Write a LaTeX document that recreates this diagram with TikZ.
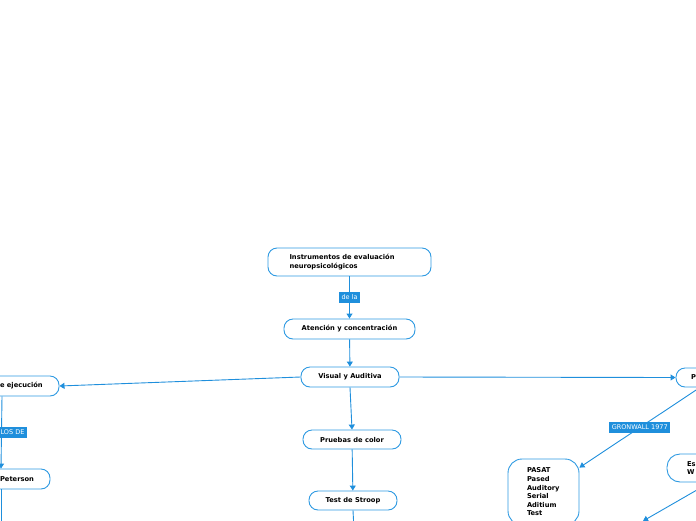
\documentclass[tikz,border=0pt]{standalone}
\usepackage{fontspec}
\setmainfont{DejaVu Sans}
\usetikzlibrary{arrows.meta}
\definecolor{bl}{HTML}{2E9AE2}
\definecolor{lb}{HTML}{1F8FDC}
\tikzset{
 box/.style={draw=bl, line width=0.9pt, rounded corners=9pt, fill=white, font=\bfseries\fontsize{6.7}{8.6}\selectfont, inner sep=0pt, anchor=center},
 lab/.style={fill=lb, text=white, font=\fontsize{6.5}{7}\selectfont, inner xsep=2.5pt, inner ysep=2pt, minimum height=11pt},
 conn/.style={draw=lb, line width=0.9pt, -{Triangle[length=5pt,width=6pt]}},
 plain/.style={draw=lb, line width=0.9pt},
}
\begin{document}
\begin{tikzpicture}[x=1pt,y=-1pt]
\useasboundingbox (0,0) rectangle (696,520);
\clip (0,0) rectangle (696,520);
\node[box, minimum width=163pt, minimum height=28pt, text width=120pt, align=left] (a) at (349.5,262) {Instrumentos de evaluación\\neuropsicológicos};
\node[box, minimum width=131pt, minimum height=20pt] (b) at (349.5,329) {Atención y concentración};
\node[box, minimum width=98pt, minimum height=20pt] (c) at (350,377) {Visual y Auditiva};
\node[box, minimum width=80pt, minimum height=20pt] (d) at (19,386) {de ejecución};
\node[box, minimum width=66pt, minimum height=20pt] (e) at (17,479) {Peterson};
\node[box, minimum width=98pt, minimum height=19pt] (f) at (352,439.5) {Pruebas de color};
\node[box, minimum width=88pt, minimum height=19pt] (g) at (353,500.5) {Test de Stroop};
\node[box, minimum width=60pt, minimum height=19pt, text width=30pt, align=left] (h) at (706,377.5) {P};
\node[box, rounded corners=14pt, minimum width=71pt, minimum height=66pt, text width=33pt, align=left] (i) at (543.5,492) {PASAT\\Pased\\Auditory\\Serial\\Aditium\\Test};
\node[box, rounded corners=13pt, minimum width=60pt, minimum height=28pt, text width=20pt, align=left] (j) at (697,468) {Es\\W};
\coordinate (eend) at (1,530);
\coordinate (gend) at (354,530);
\coordinate (jend) at (643,521);
\draw[conn] (a) -- node[lab]{de la} (b);
\draw[conn] (b) -- (c);
\draw[conn] (c.west) -- (d.east);
\draw[conn] ([xshift=-17pt]d.south) -- node[lab, xshift=11pt]{LOS DE} ([xshift=-16pt]e.north);
\draw[plain] ([xshift=-16pt]e.south) -- (eend);
\draw[conn] (c.south) -- (f.north);
\draw[conn] (f) -- (g);
\draw[plain] (g.south) -- (gend);
\draw[conn] (c.east) -- (h.west);
\draw[conn] ([xshift=-6pt]h.south) -- node[lab]{GRONWALL 1977} ([yshift=-9pt]i.north east);
\draw[conn] ([xshift=13pt]j.south) -- (jend);
\end{tikzpicture}
\end{document}
